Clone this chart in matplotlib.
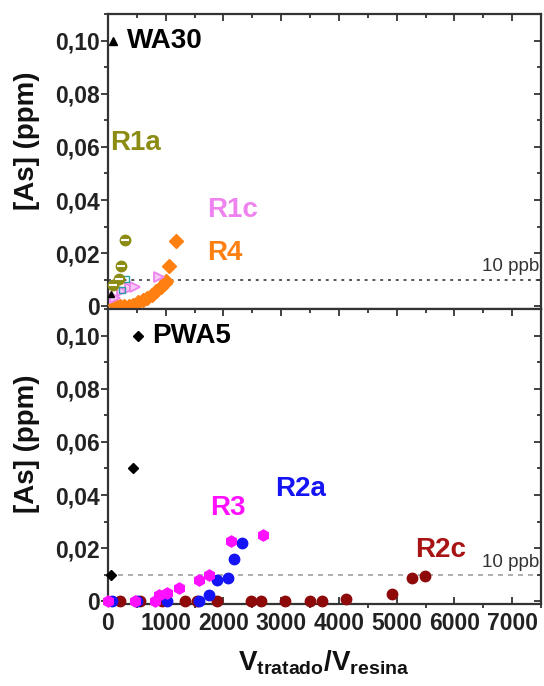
import matplotlib
matplotlib.use("Agg")
import matplotlib.pyplot as plt
import matplotlib.lines as mlines
from matplotlib.ticker import MultipleLocator, FixedLocator, FixedFormatter

plt.rcParams['font.family'] = ['Liberation Sans', 'DejaVu Sans']
plt.rcParams['mathtext.fontset'] = 'custom'
plt.rcParams['mathtext.rm'] = 'Liberation Sans:bold'
plt.rcParams['mathtext.bf'] = 'Liberation Sans:bold'
plt.rcParams['mathtext.it'] = 'Liberation Sans:bold'

# ---------------- data (top panel: WA30) ----------------
wa30_x = [50]
wa30_y = [0.0045]
r1a_x = [87, 184, 225, 300]
r1a_y = [0.0081, 0.0104, 0.0153, 0.0250]
r1b_x = [240, 320]
r1b_y = [0.0063, 0.0104]
r1c_x = [126, 242, 386, 472, 876]
r1c_y = [0.0033, 0.0056, 0.0070, 0.0074, 0.0110]
r4_x = [120, 200, 280, 360, 440, 520, 600, 680, 760, 840, 920, 980, 1010, 1062, 1180]
r4_y = [0.0006, 0.0, 0.0, 0.0, 0.0006, 0.0016, 0.0022, 0.0031, 0.0044, 0.0058, 0.0074, 0.0086, 0.0094, 0.0150, 0.0246]

# ---------------- data (bottom panel: PWA5) ----------------
pwa5_x = [57, 438]
pwa5_y = [0.010, 0.050]
r3_x = [0, 472, 818, 876, 1020, 1230, 1582, 1741, 2125, 2688]
r3_y = [0.0, 0.0, 0.0, 0.0025, 0.0030, 0.0052, 0.0080, 0.0100, 0.0228, 0.0250]
r2a_x = [69, 500, 1020, 1568, 1741, 1885, 2087, 2174, 2318]
r2a_y = [0.0, 0.0, 0.0, 0.0, 0.0025, 0.0080, 0.0086, 0.0158, 0.0218]
r2c_x = [213, 559, 934, 1337, 1540, 1886, 2479, 2652, 3067, 3500, 3702, 4123, 4913, 5260, 5490]
r2c_y = [0.0, 0.0, 0.0, 0.0, 0.0, 0.0, 0.0, 0.0, 0.0, 0.0, 0.0, 0.0010, 0.0029, 0.0087, 0.0096]

limit_ppm = 0.010
ytick_vals = [0.0, 0.02, 0.04, 0.06, 0.08, 0.10]
ytick_labels = ["0", "0,02", "0,04", "0,06", "0,08", "0,10"]
xtick_vals = [0, 1000, 2000, 3000, 4000, 5000, 6000, 7000]
xtick_labels = ["0", "1000", "2000", "3000", "4000", "5000", "6000", "7000"]

C_OLIVE = '#8C8C14'
C_TEAL = '#2AA0A8'
C_VIOLET = '#EE82EE'
C_ORANGE = '#FF8010'
C_MAGENTA = '#FF10FF'
C_BLUE = '#1414F5'
C_DRED = '#8E0A0A'
C_R2C_TXT = '#A81414'

fig = plt.figure(figsize=(5.44, 6.86), dpi=100)
L, R, T, B = 108/544, 541/544, 1 - 14/686, 1 - 604/686
H = (T - B) / 2
ax1 = fig.add_axes([L, B + H, R - L, H])
ax2 = fig.add_axes([L, B, R - L, H])

SPINE = '#333333'
TICKFS = 16.5
for ax in (ax1, ax2):
    ax.set_xlim(0, 7500)
    ax.set_ylim(-0.001, 0.11)
    for s in ax.spines.values():
        s.set_color(SPINE)
        s.set_linewidth(1.6)
    ax.yaxis.set_major_locator(FixedLocator(ytick_vals))
    ax.yaxis.set_major_formatter(FixedFormatter(ytick_labels))
    ax.yaxis.set_minor_locator(MultipleLocator(0.01))
    ax.xaxis.set_major_locator(FixedLocator(xtick_vals))
    ax.xaxis.set_major_formatter(FixedFormatter(xtick_labels))
    ax.xaxis.set_minor_locator(MultipleLocator(500))
    ax.tick_params(axis='both', which='both', left=True, right=True, top=True, bottom=True,
                   color=SPINE, width=1.3, direction='in')
    ax.tick_params(axis='both', which='major', length=5)
    ax.tick_params(axis='both', which='minor', length=3)
    ax.tick_params(axis='y', labelsize=TICKFS, pad=6)
    for lab in ax.get_yticklabels():
        lab.set_fontweight('bold')
        lab.set_color('#222222')

# left and bottom ticks outward, right and top inward
for ax in (ax1, ax2):
    for tick in ax.yaxis.get_major_ticks() + ax.yaxis.get_minor_ticks():
        tick.tick1line.set_marker(mlines.TICKLEFT)
    for tick in ax.xaxis.get_major_ticks() + ax.xaxis.get_minor_ticks():
        tick.tick1line.set_marker(mlines.TICKDOWN)

ax1.tick_params(axis='x', labelbottom=False)
ax2.tick_params(axis='x', labelsize=TICKFS, pad=6)
for lab in ax2.get_xticklabels():
    lab.set_fontweight('bold')
    lab.set_color('#222222')

# ---------- top panel ----------
ax1.axhline(limit_ppm, color='#555555', lw=1.4, ls=(0, (1.5, 2.5)), zorder=1)
kw = dict(ls='none', clip_on=False, zorder=3)
ax1.plot(r4_x, r4_y, marker='D', ms=7, color=C_ORANGE, mec=C_ORANGE, **kw)
ax1.plot(r1c_x, r1c_y, marker='>', ms=7, mfc='#F8C8F8', mec=C_VIOLET, mew=1.3, **kw)
ax1.plot(r1b_x, r1b_y, marker='s', ms=5, mfc='none', mec=C_TEAL, mew=1.0, **kw)
ax1.plot(r1a_x, r1a_y, marker='o', ms=7.5, color=C_OLIVE, mec=C_OLIVE, **kw)
ax1.plot(r1a_x, r1a_y, marker='_', ms=6, color='white', mew=1.5, ls='none', clip_on=False, zorder=4)
ax1.plot(wa30_x, wa30_y, marker='^', ms=5, color='black', **kw)
# label marker
ax1.plot([90], [0.10], marker='^', ms=5.5, color='black', **kw)
ax1.text(335, 0.10, "WA30", fontsize=20, fontweight='bold', color='black', va='center', ha='left')
ax1.text(40, 0.0614, "R1a", fontsize=20, fontweight='bold', color=C_OLIVE, va='center', ha='left')
ax1.text(1720, 0.0363, "R1c", fontsize=20, fontweight='bold', color=C_VIOLET, va='center', ha='left')
ax1.text(1720, 0.0200, "R4", fontsize=20, fontweight='bold', color=C_ORANGE, va='center', ha='left')
ax1.text(7470, 0.0149, "10 ppb", fontsize=13.5, color='#333333', va='center', ha='right')

# ---------- bottom panel ----------
ax2.axhline(limit_ppm, color='#A0A0A0', lw=1.2, ls=(0, (3, 3)), zorder=1)
ax2.plot(r2c_x, r2c_y, marker='o', ms=7.5, color=C_DRED, **kw)
ax2.plot(r2a_x, r2a_y, marker='o', ms=7.5, color=C_BLUE, **kw)
ax2.plot(r3_x, r3_y, marker='h', ms=8, color=C_MAGENTA, **kw)
ax2.plot(pwa5_x, pwa5_y, marker='D', ms=5.5, color='black', **kw)
ax2.plot([519], [0.10], marker='D', ms=5.5, color='black', **kw)
ax2.text(768, 0.10, "PWA5", fontsize=20, fontweight='bold', color='black', va='center', ha='left')
ax2.text(1770, 0.0350, "R3", fontsize=20, fontweight='bold', color=C_MAGENTA, va='center', ha='left')
ax2.text(2900, 0.0424, "R2a", fontsize=20, fontweight='bold', color=C_BLUE, va='center', ha='left')
ax2.text(5317, 0.0195, "R2c", fontsize=20, fontweight='bold', color=C_R2C_TXT, va='center', ha='left')
ax2.text(7470, 0.0145, "10 ppb", fontsize=13.5, color='#333333', va='center', ha='right')

# y labels
fig.text(27/544, 1 - 141/686, "[As] (ppm)", rotation=90, fontsize=20, fontweight='bold',
         ha='center', va='center', color='#111111')
fig.text(27/544, 1 - 444/686, "[As] (ppm)", rotation=90, fontsize=20, fontweight='bold',
         ha='center', va='center', color='#111111')
# x label
fig.text(324/544, 1 - 663/686, r"$\mathrm{V_{tratado}/V_{resina}}$", fontsize=20,
         ha='center', va='center', color='#111111')

fig.savefig("out.png", dpi=100)
